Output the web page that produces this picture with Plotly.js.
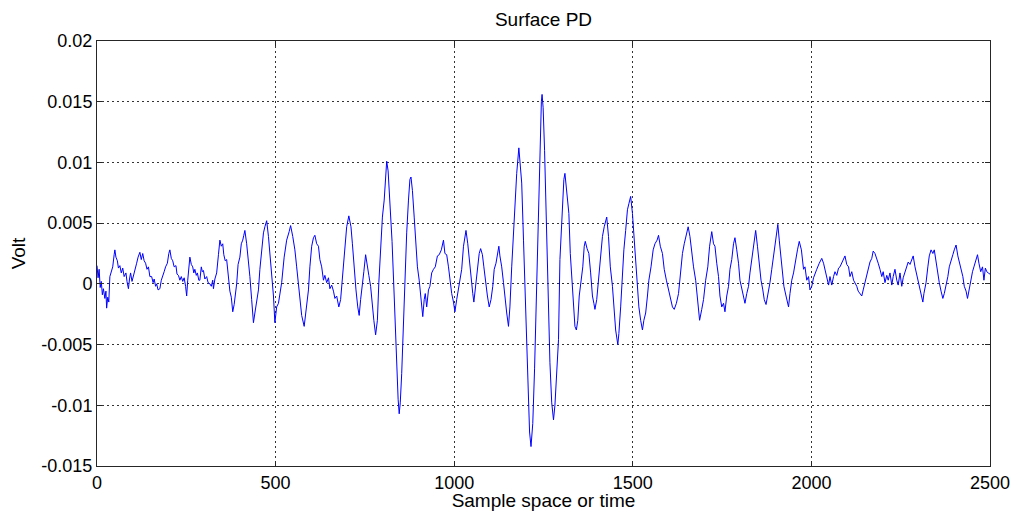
<!DOCTYPE html>
<html>
<head>
<meta charset="utf-8">
<script src="https://cdn.plot.ly/plotly-3.0.1.min.js"></script>
<style>
  html, body { margin: 0; padding: 0; background: #fff; }
  #chart { width: 1016px; height: 511px; }
</style>
</head>
<body>
<div id="chart"></div>
<script>
const sampleIndex = [
  0,3,6,9,12,15,18,22,25,27,30,33,36,40,44,48,50,53,57,60,64,68,72,76,81,84,88,91,94,98,
  102,106,111,115,120,124,128,132,136,140,144,148,153,157,160,164,167,171,176,180,184,188,192,197,201,204,208,212,216,221,
  224,228,232,236,240,244,248,251,254,258,260,264,268,271,274,278,281,285,288,292,295,298,302,307,311,316,320,324,326,330,
  335,340,344,348,352,355,359,363,367,372,376,380,384,388,391,395,400,404,408,411,414,
  419,424,428,433,438,442,447,452,456,461,466,470,475,480,484,489,494,498,503,508,517,524,531,538,542,548,554,559,564,568,
  573,580,585,592,596,601,606,610,615,620,624,629,634,638,643,648,652,657,662,666,671,677,682,687,692,699,705,711,715,719,
  725,730,734,738,743,747,752,757,761,766,771,775,780,785,789,794,799,804,808,811,815,820,826,832,838,843,846,849,853,858,
  862,867,872,876,879,883,888,892,897,902,906,910,912,916,919,923,928,932,937,942,947,953,958,964,970,974,979,984,988,993,
  998,1002,1007,1012,1016,1021,1026,1030,1033,1038,1042,1047,1052,1055,1060,1065,1070,1074,1079,1083,1088,1093,1098,1103,1108,1112,1117,1122,1125,1128,
  1133,1138,1142,1147,1152,1156,1161,1166,1170,1175,1181,1184,1189,1194,1198,1202,1207,1211,1215,1220,1225,1230,1235,1240,1244,1246,1249,1253,1258,1263,
  1268,1273,1278,1282,1292,1296,1303,1307,1310,1314,1318,1321,1325,1329,1334,1338,1342,1346,1350,1355,1360,1364,1367,1372,1377,1382,1387,1391,1394,1399,
  1404,1409,1415,1420,1427,1432,1437,1443,1447,1452,1458,1461,1466,1471,1475,1480,1485,1489,1494,1499,1503,1508,1513,1517,1522,1527,1531,1536,1541,1545,
  1551,1557,1562,1568,1572,1577,1583,1588,1594,1600,1605,1611,1616,1622,1628,1633,1639,1644,1650,1655,1660,1665,1670,1676,1682,1687,1693,1698,1704,1710,
  1715,1721,1726,1730,1735,1740,1744,1749,1754,1758,1763,1768,1772,1777,1782,1786,1791,1796,1800,1805,1810,1814,1819,1824,1828,1833,1839,1844,1849,1854,
  1859,1864,1868,1873,1879,1884,1889,1894,1899,1906,1910,1914,1919,1923,1929,1936,1940,1945,1950,1954,1961,1966,1972,1978,1982,1987,1992,1996,2001,2006,
  2010,2015,2022,2029,2034,2038,2043,2048,2052,2057,2062,2066,2071,2076,2080,2085,2090,2094,2099,2104,2108,2113,2118,2122,2127,2131,2136,2141,2145,2150,
  2155,2159,2164,2169,2173,2178,2183,2187,2192,2197,2201,2206,2211,2215,2220,2225,2229,2234,2239,2243,2248,2253,2257,2262,2267,2271,2276,2281,2285,2290,
  2295,2299,2304,2309,2312,2315,2321,2326,2330,2335,2340,2344,2349,2354,2358,2363,2368,2372,2377,2382,2386,2391,2396,2400,2405,2410,2414,2419,2424,2428,
  2433,2437,2441,2446,2451,2455,2460,2465,2469,2474,2479,2483,2487,2491,2495,2500
];
const voltage = [
  0.0015,0.0005,0.0012,-0.0003,0.0002,-0.0009,-0.0004,-0.0012,-0.0006,-0.0020,-0.0011,-0.0015,0.0006,0.0010,0.0014,0.0024,0.0028,0.0022,0.0019,0.0013,0.0015,0.0009,0.0013,0.0006,0.0009,0.0002,-0.0004,0.0004,0.0009,0.0002,
  0.0006,0.0012,0.0017,0.0022,0.0026,0.0020,0.0025,0.0019,0.0017,0.0012,0.0014,0.0006,0.0006,0.0001,0.0004,-0.0002,0.0000,-0.0005,-0.0004,0.0003,0.0006,0.0010,0.0014,0.0017,0.0025,0.0028,0.0021,0.0019,0.0014,0.0015,
  0.0008,0.0007,0.0003,0.0006,0.0002,0.0005,-0.0002,-0.0010,0.0003,0.0013,0.0022,0.0016,0.0014,0.0009,0.0012,0.0007,0.0009,0.0003,0.0003,0.0014,0.0010,0.0011,0.0004,0.0006,0.0001,0.0000,-0.0002,0.0003,-0.0004,0.0004,
  0.0009,0.0024,0.0036,0.0031,0.0033,0.0024,0.0019,0.0020,0.0008,-0.0006,-0.0011,-0.0023,-0.0017,-0.0008,0.0000,0.0016,0.0022,0.0033,0.0036,0.0040,0.0044,
  0.0033,0.0020,0.0006,-0.0013,-0.0032,-0.0024,-0.0016,-0.0005,0.0012,0.0028,0.0042,0.0047,0.0052,0.0039,0.0025,0.0009,-0.0010,-0.0032,-0.0019,-0.0016,0.0001,0.0022,0.0036,0.0043,0.0048,0.0039,0.0028,0.0014,-0.0002,-0.0016,
  -0.0026,-0.0035,-0.0021,-0.0005,0.0014,0.0031,0.0038,0.0040,0.0033,0.0031,0.0020,0.0014,0.0003,0.0007,0.0001,0.0005,-0.0004,-0.0001,-0.0006,-0.0012,-0.0010,-0.0019,-0.0013,0.0006,0.0028,0.0047,0.0056,0.0047,0.0033,0.0014,
  -0.0005,-0.0019,-0.0026,-0.0013,-0.0002,0.0010,0.0024,0.0012,0.0007,-0.0002,-0.0019,-0.0030,-0.0042,-0.0030,0.0001,0.0033,0.0055,0.0069,0.0095,0.0101,0.0093,0.0070,0.0035,-0.0010,-0.0060,-0.0095,-0.0107,-0.0098,-0.0074,-0.0032,
  0.0009,0.0042,0.0069,0.0086,0.0088,0.0077,0.0055,0.0033,0.0014,0.0003,-0.0010,-0.0019,-0.0027,-0.0013,-0.0008,-0.0019,-0.0005,-0.0002,0.0009,0.0012,0.0014,0.0023,0.0024,0.0028,0.0036,0.0025,0.0024,0.0014,0.0003,-0.0008,
  -0.0015,-0.0023,-0.0013,-0.0005,0.0001,0.0012,0.0031,0.0039,0.0044,0.0033,0.0020,0.0003,-0.0008,-0.0015,-0.0002,0.0012,0.0025,0.0029,0.0024,0.0014,0.0001,-0.0010,-0.0019,-0.0013,-0.0002,0.0012,0.0017,0.0028,0.0031,0.0023,
  0.0014,0.0001,-0.0013,-0.0024,-0.0035,-0.0019,0.0014,0.0042,0.0069,0.0091,0.0112,0.0099,0.0083,0.0036,-0.0005,-0.0046,-0.0098,-0.0122,-0.0134,-0.0115,-0.0070,-0.0010,0.0060,0.0125,0.0150,0.0156,0.0145,0.0110,0.0050,-0.0015,
  -0.0065,-0.0098,-0.0112,-0.0100,-0.0046,0.0020,0.0061,0.0086,0.0091,0.0077,0.0069,0.0058,0.0025,0.0003,-0.0019,-0.0035,-0.0038,-0.0030,-0.0010,0.0003,0.0014,0.0031,0.0035,0.0029,0.0025,0.0009,-0.0010,-0.0016,-0.0021,-0.0013,
  0.0003,0.0023,0.0039,0.0047,0.0055,0.0039,0.0014,-0.0002,-0.0021,-0.0038,-0.0050,-0.0041,-0.0019,0.0009,0.0028,0.0044,0.0061,0.0066,0.0072,0.0058,0.0039,0.0017,-0.0002,-0.0019,-0.0030,-0.0038,-0.0030,-0.0024,-0.0010,0.0003,
  0.0014,0.0028,0.0033,0.0036,0.0040,0.0031,0.0025,0.0012,0.0003,-0.0005,-0.0010,-0.0019,-0.0021,-0.0016,-0.0008,0.0009,0.0025,0.0033,0.0042,0.0047,0.0039,0.0025,0.0014,0.0003,-0.0019,-0.0030,-0.0021,-0.0013,0.0003,0.0014,
  0.0031,0.0043,0.0033,0.0031,0.0017,0.0006,-0.0010,-0.0019,-0.0016,-0.0023,-0.0010,-0.0002,0.0012,0.0020,0.0033,0.0038,0.0028,0.0017,0.0003,-0.0005,-0.0010,-0.0016,-0.0008,-0.0002,0.0009,0.0020,0.0036,0.0044,0.0031,0.0017,
  0.0003,-0.0005,-0.0013,-0.0017,-0.0008,0.0001,0.0012,0.0023,0.0036,0.0049,0.0036,0.0023,0.0009,-0.0002,-0.0010,-0.0019,-0.0008,0.0003,0.0009,0.0017,0.0028,0.0035,0.0028,0.0012,0.0014,0.0003,0.0006,-0.0005,-0.0002,0.0005,
  0.0009,0.0012,0.0017,0.0021,0.0017,0.0012,0.0006,-0.0001,0.0006,-0.0001,0.0006,0.0010,0.0007,0.0013,0.0014,0.0017,0.0020,0.0023,0.0016,0.0014,0.0006,0.0010,0.0003,0.0001,-0.0002,-0.0006,-0.0008,-0.0010,-0.0005,0.0001,
  0.0009,0.0014,0.0018,0.0021,0.0027,0.0025,0.0021,0.0017,0.0012,0.0006,0.0010,0.0001,0.0007,0.0003,0.0009,-0.0001,0.0006,0.0012,0.0003,-0.0001,0.0009,-0.0002,0.0005,0.0010,0.0014,0.0018,0.0016,0.0020,0.0023,0.0014,
  0.0007,0.0002,-0.0005,-0.0010,-0.0015,-0.0008,0.0001,0.0014,0.0023,0.0028,0.0025,0.0028,0.0017,0.0009,0.0001,-0.0006,-0.0012,-0.0008,-0.0002,0.0006,0.0014,0.0020,0.0024,0.0028,0.0032,0.0023,0.0018,0.0012,0.0006,-0.0002,
  -0.0006,-0.0012,-0.0005,0.0003,0.0010,0.0014,0.0020,0.0024,0.0017,0.0010,0.0014,0.0003,0.0013,0.0010,0.0009,0.0008
];

const xTickVals = [0, 500, 1000, 1500, 2000, 2500];
const yTickVals = [-0.015, -0.01, -0.005, 0, 0.005, 0.01, 0.015, 0.02];
const yTickText = ['-0.015', '-0.01', '-0.005', '0', '0.005', '0.01', '0.015', '0.02'];

const fam = 'Liberation Sans, Arial, sans-serif';
const tickFont = { family: fam, size: 18, color: '#000' };
const titleFont = { family: fam, size: 19, color: '#000' };

const trace = {
  x: sampleIndex,
  y: voltage,
  type: 'scatter',
  mode: 'lines',
  line: { color: '#0000ff', width: 1 },
  hoverinfo: 'x+y'
};

const axisCommon = {
  showline: true,
  linecolor: '#262626',
  linewidth: 1,
  mirror: 'ticks',
  ticks: 'inside',
  ticklen: 5,
  tickcolor: '#262626',
  showgrid: true,
  gridcolor: '#333',
  gridwidth: 1,
  griddash: '2px,3px',
  zeroline: false,
  tickfont: tickFont,
  automargin: false
};

const layout = {
  width: 1016,
  height: 511,
  paper_bgcolor: '#fff',
  plot_bgcolor: '#fff',
  margin: { l: 97, r: 26, t: 41, b: 45 },
  showlegend: false,
  font: tickFont,
  title: {
    text: 'Surface PD',
    font: titleFont,
    xref: 'paper', x: 0.5, xanchor: 'center',
    yref: 'container', y: 0.963, yanchor: 'middle'
  },
  xaxis: Object.assign({}, axisCommon, {
    range: [0, 2500],
    tickmode: 'array',
    tickvals: xTickVals,
    ticktext: xTickVals.map(String),
    title: { text: 'Sample space or time', font: titleFont, standoff: 2 }
  }),
  yaxis: Object.assign({}, axisCommon, {
    range: [-0.015, 0.02],
    tickmode: 'array',
    tickvals: yTickVals,
    ticktext: yTickText,
    title: { text: 'Volt', font: titleFont, standoff: 10 }
  })
};

Plotly.newPlot('chart', [trace], layout, { displayModeBar: false, staticPlot: true });
</script>
</body>
</html>
